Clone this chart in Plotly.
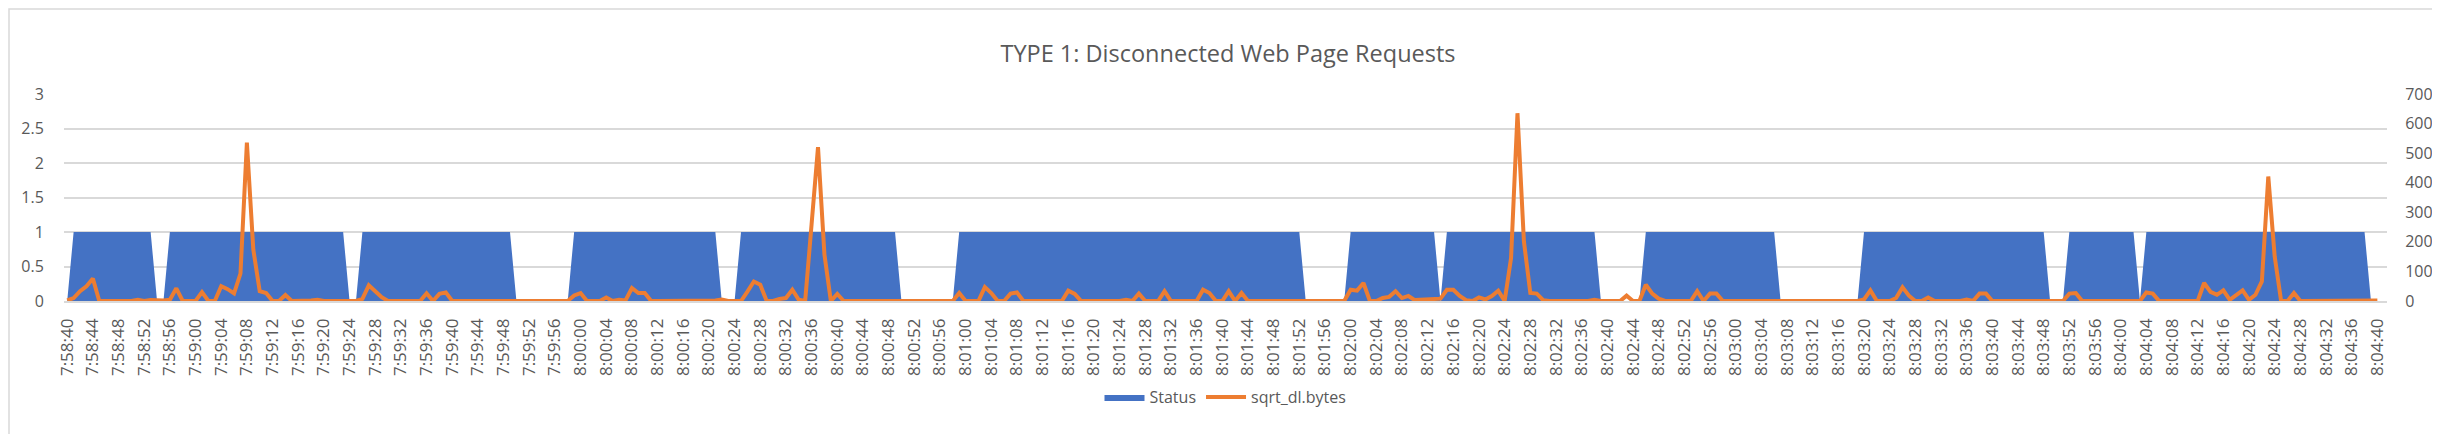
import pandas as pd
import plotly.graph_objects as go

# one category per second, 7:58:40 .. 8:04:41
times = [t.strftime("%-H:%M:%S") for t in pd.date_range("2020-01-01 07:58:40", "2020-01-01 08:04:41", freq="s")]
tick_labels = times[::4]

status = [
    0,1,1,1,1,1,1,1,1,1,1,1,1,1,0,0,1,1,1,1,
    1,1,1,1,1,1,1,1,1,1,1,1,1,1,1,1,1,1,1,1,
    1,1,1,1,0,0,1,1,1,1,1,1,1,1,1,1,1,1,1,1,
    1,1,1,1,1,1,1,1,1,1,0,0,0,0,0,0,0,0,0,1,
    1,1,1,1,1,1,1,1,1,1,1,1,1,1,1,1,1,1,1,1,
    1,1,0,0,0,1,1,1,1,1,1,1,1,1,1,1,1,1,1,1,
    1,1,1,1,1,1,1,1,1,1,0,0,0,0,0,0,0,0,0,1,
    1,1,1,1,1,1,1,1,1,1,1,1,1,1,1,1,1,1,1,1,
    1,1,1,1,1,1,1,1,1,1,1,1,1,1,1,1,1,1,1,1,
    1,1,1,1,1,1,1,1,1,1,1,1,1,0,0,0,0,0,0,0,
    1,1,1,1,1,1,1,1,1,1,1,1,1,1,0,1,1,1,1,1,
    1,1,1,1,1,1,1,1,1,1,1,1,1,1,1,1,1,1,1,0,
    0,0,0,0,0,0,1,1,1,1,1,1,1,1,1,1,1,1,1,1,
    1,1,1,1,1,1,1,0,0,0,0,0,0,0,0,0,0,0,0,0,
    1,1,1,1,1,1,1,1,1,1,1,1,1,1,1,1,1,1,1,1,
    1,1,1,1,1,1,1,1,1,0,0,0,1,1,1,1,1,1,1,1,
    1,1,1,0,1,1,1,1,1,1,1,1,1,1,1,1,1,1,1,1,
    1,1,1,1,1,1,1,1,1,1,1,1,1,1,1,1,1,1,1,0,
    0,0,
]

sqrt_dl_bytes = [
    2,10,33,50,76,0,0,0,0,0,0,4,0,3,2,2,4,43,0,0,
    0,30,0,0,50,40,26,93,536,174,33,27,0,0,20,0,0,0,2,4,
    0,0,0,3,0,0,7,53,33,13,0,0,0,0,0,0,26,0,24,29,
    0,0,0,0,0,0,0,0,3,0,0,0,0,0,0,0,0,0,0,19,
    27,0,0,0,12,0,4,2,44,27,27,0,0,0,0,0,0,0,0,0,
    0,2,5,0,0,0,32,66,55,0,0,7,10,38,4,0,260,520,157,0,
    24,0,0,0,0,0,0,0,0,0,3,0,0,0,0,0,0,0,0,27,
    0,0,0,47,27,0,0,25,29,0,0,0,3,0,0,0,35,24,0,0,
    0,0,0,0,0,4,0,25,0,0,0,33,0,0,0,0,0,38,27,0,
    0,33,0,27,0,0,0,3,0,0,0,0,0,0,0,0,0,0,0,0,
    38,35,61,0,0,10,14,33,10,17,3,5,5,8,8,38,38,17,3,0,
    12,5,17,35,0,145,635,202,27,25,3,0,0,0,0,0,0,0,4,0,
    0,0,0,18,0,0,55,25,8,0,0,0,0,0,33,0,25,25,0,0,
    0,0,0,0,0,0,3,0,0,0,0,0,0,0,0,0,0,0,0,0,
    5,36,0,0,0,10,46,18,0,0,12,0,0,0,0,0,5,0,25,25,
    0,0,0,0,0,0,0,0,3,0,0,0,25,27,0,0,0,0,0,0,
    0,0,0,0,29,25,0,0,0,0,0,0,0,61,31,21,36,4,19,36,
    4,21,66,421,150,0,0,27,0,0,0,0,0,0,0,0,0,0,0,3,
    2,None,
]

left_ticks = [0, 0.5, 1, 1.5, 2, 2.5, 3]
left_text = ["0", "0.5", "1", "1.5", "2", "2.5", "3"]
right_ticks = [0, 100, 200, 300, 400, 500, 600, 700]

FONT = "Open Sans"
GREY = "#595959"

fig = go.Figure()
fig.add_trace(go.Scatter(
    x=times, y=status, name="Status", mode="lines",
    line=dict(width=0, color="#4472C4"), fill="tozeroy", fillcolor="#4472C4",
    yaxis="y",
))
fig.add_trace(go.Scatter(
    x=times, y=sqrt_dl_bytes, name="sqrt_dl.bytes", mode="lines",
    line=dict(width=4, color="#ED7D31"), yaxis="y2", connectgaps=False,
))

L, R, T, B = 56, 61, 86, 141
W, H = 2440, 434
pw, ph = W - L - R, H - T - B

fig.update_layout(
    width=W, height=H,
    margin=dict(l=L, r=R, t=T, b=B, pad=0),
    paper_bgcolor="white", plot_bgcolor="white",
    font=dict(family=FONT, color=GREY, size=16),
    title=dict(text="TYPE 1: Disconnected Web Page Requests", x=0.5, xanchor="center",
               y=1 - 46 / H, yanchor="middle", font=dict(family=FONT, size=23.5, color=GREY)),
    xaxis=dict(type="category", range=[-0.5, len(times) - 0.5], tickmode="array",
               tickvals=tick_labels, ticktext=tick_labels, tickangle=-90,
               tickfont=dict(family=FONT, size=17, color=GREY),
               ticks="outside", ticklen=9, tickcolor="rgba(0,0,0,0)",
               showgrid=False, showline=True, linecolor="#D9D9D9", linewidth=1.5, zeroline=False),
    yaxis=dict(range=[0, 3], tickmode="array", tickvals=left_ticks, ticktext=left_text,
               showgrid=True, gridcolor="#D9D9D9", gridwidth=1.5, zeroline=False,
               ticks="outside", ticklen=16, tickcolor="rgba(0,0,0,0)",
               tickfont=dict(family=FONT, size=16, color=GREY)),
    yaxis2=dict(range=[0, 700], tickmode="array", tickvals=right_ticks, overlaying="y", side="right",
                showgrid=False, zeroline=False,
                ticks="outside", ticklen=14, tickcolor="rgba(0,0,0,0)",
                tickfont=dict(family=FONT, size=16, color=GREY)),
    legend=dict(orientation="h", x=0.5, xanchor="center", y=(T + ph - 389) / ph, yanchor="middle",
                font=dict(family=FONT, size=16, color=GREY), itemwidth=40, bgcolor="rgba(0,0,0,0)"),
    showlegend=True,
)

fig.add_shape(type="rect", xref="paper", yref="paper",
              x0=(1 - L) / pw, x1=(W - 1.5 - L) / pw,
              y0=(T + ph - (H - 1.5)) / ph, y1=(T + ph - 1) / ph,
              line=dict(color="#D9D9D9", width=1.5), fillcolor="rgba(0,0,0,0)", layer="below")

fig.write_html("out.html")
